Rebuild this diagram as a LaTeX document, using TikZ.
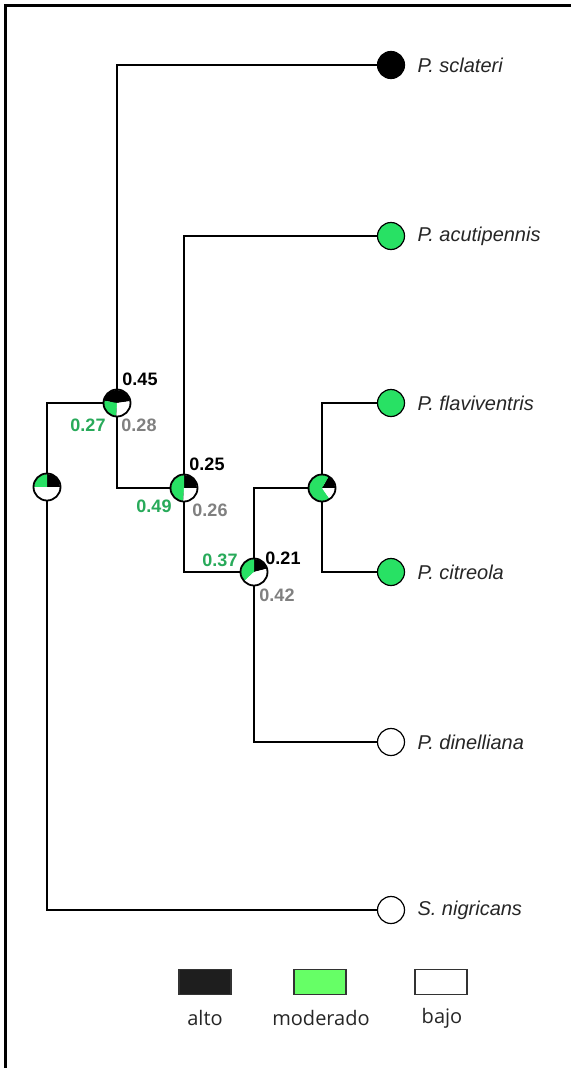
\documentclass[tikz,border=0pt]{standalone}
\usepackage{fontspec}
\setmainfont{Liberation Sans}
\newfontfamily\legfont{Open Sans}
\definecolor{leafgreen}{RGB}{40,225,100}
\definecolor{labgreen}{RGB}{40,170,90}
\definecolor{labgray}{RGB}{128,128,128}
\definecolor{boxgreen}{RGB}{102,255,102}
\definecolor{boxblack}{RGB}{30,30,30}
\tikzset{
  branch/.style={line width=1.4pt, black},
  leafdot/.style={circle, draw=black, line width=1.2pt, minimum size=27pt, inner sep=0pt},
  pieedge/.style={circle, draw=black, line width=1.8pt, minimum size=27pt, inner sep=0pt},
  species/.style={anchor=west, font=\fontsize{20}{22}\selectfont\itshape, text=black!85},
  numblack/.style={font=\fontsize{18}{20}\selectfont\bfseries, text=black},
  numgreen/.style={font=\fontsize{18}{20}\selectfont\bfseries, text=labgreen},
  numgray/.style={font=\fontsize{18}{20}\selectfont\bfseries, text=labgray},
  legbox/.style={draw=black!80, line width=1.2pt, minimum width=52pt, minimum height=25pt, inner sep=0pt},
  legtext/.style={font=\legfont\fontsize{20}{22}\selectfont, text=black!85}
}
\newcommand{\sector}[5]{% center, start, end, color, radius
  \fill[#4] (#1) -- ++(#2:#5) arc[start angle=#2, end angle=#3, radius=#5] -- cycle;}
\begin{document}
\begin{tikzpicture}[x=1pt,y=1pt]
\useasboundingbox (0,0) rectangle (571,-1068);
\fill[white] (0,0) rectangle (571,-1068);
% frame
\draw[line width=3pt] (5,-1068) -- (5,-5) -- (571,-5);
% internal node centres
\coordinate (r)  at (47,-487);
\coordinate (n1) at (117,-403);
\coordinate (n2) at (184,-488);
\coordinate (n3) at (254,-572);
\coordinate (n4) at (322,-488);
% leaves
\node[leafdot, fill=black]     (scl) at (391,-65)  {};
\node[leafdot, fill=leafgreen] (acu) at (391,-236) {};
\node[leafdot, fill=leafgreen] (fla) at (391,-403) {};
\node[leafdot, fill=leafgreen] (cit) at (391,-572) {};
\node[leafdot, fill=white]     (din) at (391,-742) {};
\node[leafdot, fill=white]     (nig) at (391,-910) {};
% branches
\draw[branch] (r) |- (n1);
\draw[branch] (r) |- (nig.west);
\draw[branch] (n1) |- (scl.west);
\draw[branch] (n1) |- (n2);
\draw[branch] (n2) |- (acu.west);
\draw[branch] (n2) |- (n3);
\draw[branch] (n3) |- (n4);
\draw[branch] (n3) |- (din.west);
\draw[branch] (n4) |- (fla.west);
\draw[branch] (n4) |- (cit.west);
% pies
\sector{r}{0}{90}{black}{13pt}
\sector{r}{90}{180}{leafgreen}{13pt}
\sector{r}{180}{360}{white}{13pt}
\node[pieedge] (pr) at (r) {};
\sector{n1}{8}{170}{black}{13pt}
\sector{n1}{170}{267}{leafgreen}{13pt}
\sector{n1}{267}{368}{white}{13pt}
\node[pieedge] (p1) at (n1) {};
\sector{n2}{0}{90}{black}{13pt}
\sector{n2}{90}{266.4}{leafgreen}{13pt}
\sector{n2}{266.4}{360}{white}{13pt}
\node[pieedge] (p2) at (n2) {};
\sector{n3}{14.4}{90}{black}{13pt}
\sector{n3}{90}{223.2}{leafgreen}{13pt}
\sector{n3}{223.2}{374.4}{white}{13pt}
\node[pieedge] (p3) at (n3) {};
\sector{n4}{0}{60}{black}{13pt}
\sector{n4}{60}{305}{leafgreen}{13pt}
\sector{n4}{305}{360}{white}{13pt}
\node[pieedge] (p4) at (n4) {};
% species labels
\node[species] (lscl) at (414,-65)  {P. sclateri};
\node[species] (lacu) at (414,-236) {P. acutipennis};
\node[species] (lfla) at (414,-403) {P. flaviventris};
\node[species] (lcit) at (414,-572) {P. citreola};
\node[species] (ldin) at (414,-742) {P. dinelliana};
\node[species] (lnig) at (414,-910) {S. nigricans};
% numbers
\node[numblack] (a1) at (140,-379) {0.45};
\node[numgreen] (m1) at (88,-425)  {0.27};
\node[numgray]  (b1) at (139,-425) {0.28};
\node[numblack] (a2) at (207,-464) {0.25};
\node[numgreen] (m2) at (154,-506) {0.49};
\node[numgray]  (b2) at (210,-510) {0.26};
\node[numgreen] (m3) at (220,-560) {0.37};
\node[numblack] (a3) at (283,-558) {0.21};
\node[numgray]  (b3) at (277,-595) {0.42};
% legend
\node[legbox, fill=boxblack] (kalto) at (205,-982) {};
\node[legbox, fill=boxgreen] (kmod)  at (320,-982) {};
\node[legbox, fill=white]    (kbajo) at (441,-982) {};
\node[legtext] (talto) at (205,-1018) {alto};
\node[legtext] (tmod)  at (321,-1018) {moderado};
\node[legtext] (tbajo) at (442,-1018) {bajo};
\end{tikzpicture}
\end{document}
